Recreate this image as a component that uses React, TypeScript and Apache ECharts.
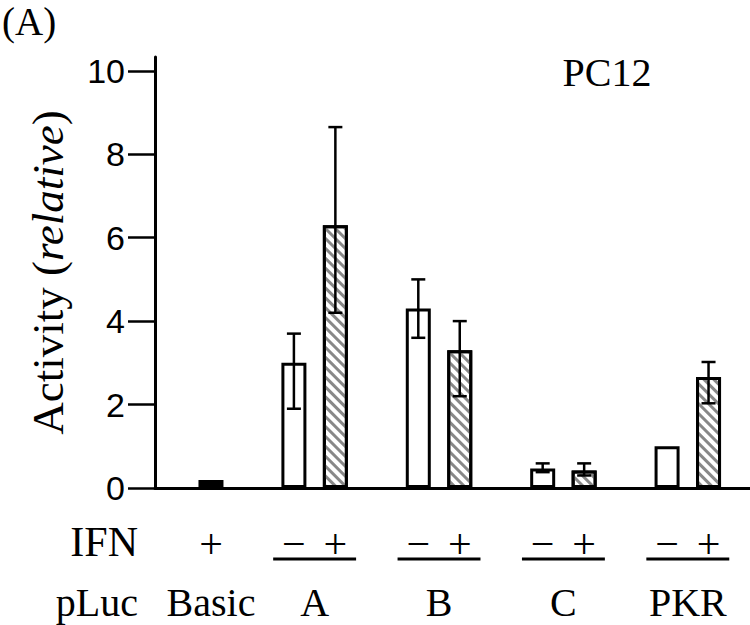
import React, { useEffect, useRef } from "react";
import * as echarts from "echarts";

// ---- data ----
const barX = [0, 2, 3, 5, 6, 8, 9, 11, 12];
const barValues = [0.19, 3.0, 6.3, 4.3, 3.3, 0.47, 0.42, 1.0, 2.66];
const barKinds = ["basic", "minus", "plus", "minus", "plus", "minus", "plus", "minus", "plus"];
const errX = [2, 3, 5, 6, 8, 9, 12];
const errLow = [1.9, 4.2, 3.6, 2.2, 0.38, 0.3, 2.03];
const errHigh = [3.7, 8.65, 5.0, 4.0, 0.59, 0.59, 3.02];
const ifnSigns = ["+", "\u2212", "+", "\u2212", "+", "\u2212", "+", "\u2212", "+"];
const groupNames = ["Basic", "A", "B", "C", "PKR"];
const groupX = [0, 2.5, 5.5, 8.5, 11.5];
const pairX = [2.5, 5.5, 8.5, 11.5];
const yTicks = [0, 2, 4, 6, 8, 10];

const SERIF = '"Liberation Serif", "Times New Roman", serif';
const SANS = '"Liberation Sans", Arial, sans-serif';

const hatch = {
  symbol: "rect",
  symbolSize: 1,
  dashArrayX: [1, 0],
  dashArrayY: [2.8, 3.8],
  rotation: Math.PI / 4,
  color: "#888888",
  backgroundColor: "#fff",
};

function styleFor(kind: string) {
  if (kind === "basic") return { color: "#000", borderColor: "#000", borderWidth: 3 };
  if (kind === "minus") return { color: "#fff", borderColor: "#000", borderWidth: 3 };
  return { color: "#fff", borderColor: "#000", borderWidth: 3, decal: hatch };
}

export default function App() {
  const ref = useRef<HTMLDivElement>(null);
  useEffect(() => {
    document.body.style.margin = "0";
    const chart = echarts.init(ref.current!, undefined, { renderer: "svg" });
    const option: any = {
      animation: false,
      grid: { left: 155, right: 0, top: 57, bottom: 137, containLabel: false, outerBoundsMode: "none" },
      xAxis: [
        {
          type: "value",
          min: -1.35,
          max: 13,
          position: "bottom",
          axisLine: { show: true, onZero: false, lineStyle: { color: "#000", width: 3 } },
          axisTick: { show: false },
          splitLine: { show: false },
          axisLabel: {
            customValues: groupX,
            formatter: (v: number) => groupNames[groupX.indexOf(v)] ?? "",
            fontFamily: SERIF,
            fontSize: 40,
            color: "#000",
            margin: 94,
          },
        },
        {
          type: "value",
          min: -1.35,
          max: 13,
          position: "bottom",
          axisLine: { show: false },
          axisTick: { show: false },
          splitLine: { show: false },
          axisLabel: {
            customValues: barX,
            formatter: (v: number) => ifnSigns[barX.indexOf(v)] ?? "",
            fontFamily: SERIF,
            fontSize: 42,
            color: "#000",
            margin: 35,
          },
        },
      ],
      yAxis: {
        type: "value",
        min: 0,
        max: 10.33,
        interval: 2,
        axisLine: { show: true, onZero: false, lineStyle: { color: "#000", width: 3 } },
        axisTick: { show: true, length: 27, customValues: yTicks, lineStyle: { color: "#000", width: 2.5 } },
        axisLabel: { customValues: yTicks, fontFamily: SANS, fontSize: 34, color: "#000", margin: 30 },
        splitLine: { show: false },
        name: "{a|Activity (}{b|relative}{a|)}",
        nameLocation: "middle",
        nameRotate: 90,
        nameGap: 85,
        nameMoveOverlap: false,
        nameTextStyle: {
          fontFamily: SERIF,
          fontSize: 45,
          color: "#000",
          rich: {
            a: { fontFamily: SERIF, fontSize: 45, color: "#000" },
            b: { fontFamily: SERIF, fontSize: 45, fontStyle: "italic", color: "#000" },
          },
        },
      },
      graphic: [
        { type: "text", x: 2, y: 2, style: { text: "(A)", fontFamily: SERIF, fontSize: 39, fill: "#000", align: "left", verticalAlign: "top" } },
        { type: "text", x: 607, y: 72, style: { text: "PC12", fontFamily: SERIF, fontSize: 40, fill: "#000", align: "center", verticalAlign: "middle" } },
        { type: "text", x: 138, y: 542, style: { text: "IFN", fontFamily: SERIF, fontSize: 42, fill: "#000", align: "right", verticalAlign: "middle" } },
        { type: "text", x: 138, y: 602, style: { text: "pLuc", fontFamily: SERIF, fontSize: 40, fill: "#000", align: "right", verticalAlign: "middle" } },
      ],
      series: [
        {
          type: "bar",
          xAxisIndex: 0,
          barWidth: 25,
          data: barX.map((x, i) => ({ value: [x, barValues[i]], itemStyle: styleFor(barKinds[i]) })),
          z: 2,
        },
        {
          type: "custom",
          xAxisIndex: 0,
          clip: false,
          z: 5,
          data: errX.map((x, i) => [x, errLow[i], errHigh[i]]),
          encode: { x: 0, y: [1, 2] },
          renderItem: (_p: any, api: any) => {
            const x = api.value(0);
            const lo = api.coord([x, api.value(1)]);
            const hi = api.coord([x, api.value(2)]);
            const cw = 7;
            const style = { stroke: "#000", lineWidth: 2.5 };
            return {
              type: "group",
              children: [
                { type: "line", shape: { x1: lo[0], y1: lo[1], x2: hi[0], y2: hi[1] }, style },
                { type: "line", shape: { x1: hi[0] - cw, y1: hi[1], x2: hi[0] + cw, y2: hi[1] }, style },
                { type: "line", shape: { x1: lo[0] - cw, y1: lo[1], x2: lo[0] + cw, y2: lo[1] }, style },
              ],
            };
          },
        },
        {
          type: "custom",
          xAxisIndex: 0,
          clip: false,
          z: 5,
          data: pairX.map((x) => [x, 0]),
          encode: { x: 0, y: 1 },
          renderItem: (_p: any, api: any) => {
            const x = api.value(0);
            const a = api.coord([x - 1, 0]);
            const b = api.coord([x + 1, 0]);
            const y = a[1] + 71;
            return { type: "line", shape: { x1: a[0], y1: y, x2: b[0], y2: y }, style: { stroke: "#000", lineWidth: 3 } };
          },
        },
      ],
    };
    chart.setOption(option);
    return () => chart.dispose();
  }, []);
  return <div ref={ref} style={{ width: 750, height: 625 }} />;
}
